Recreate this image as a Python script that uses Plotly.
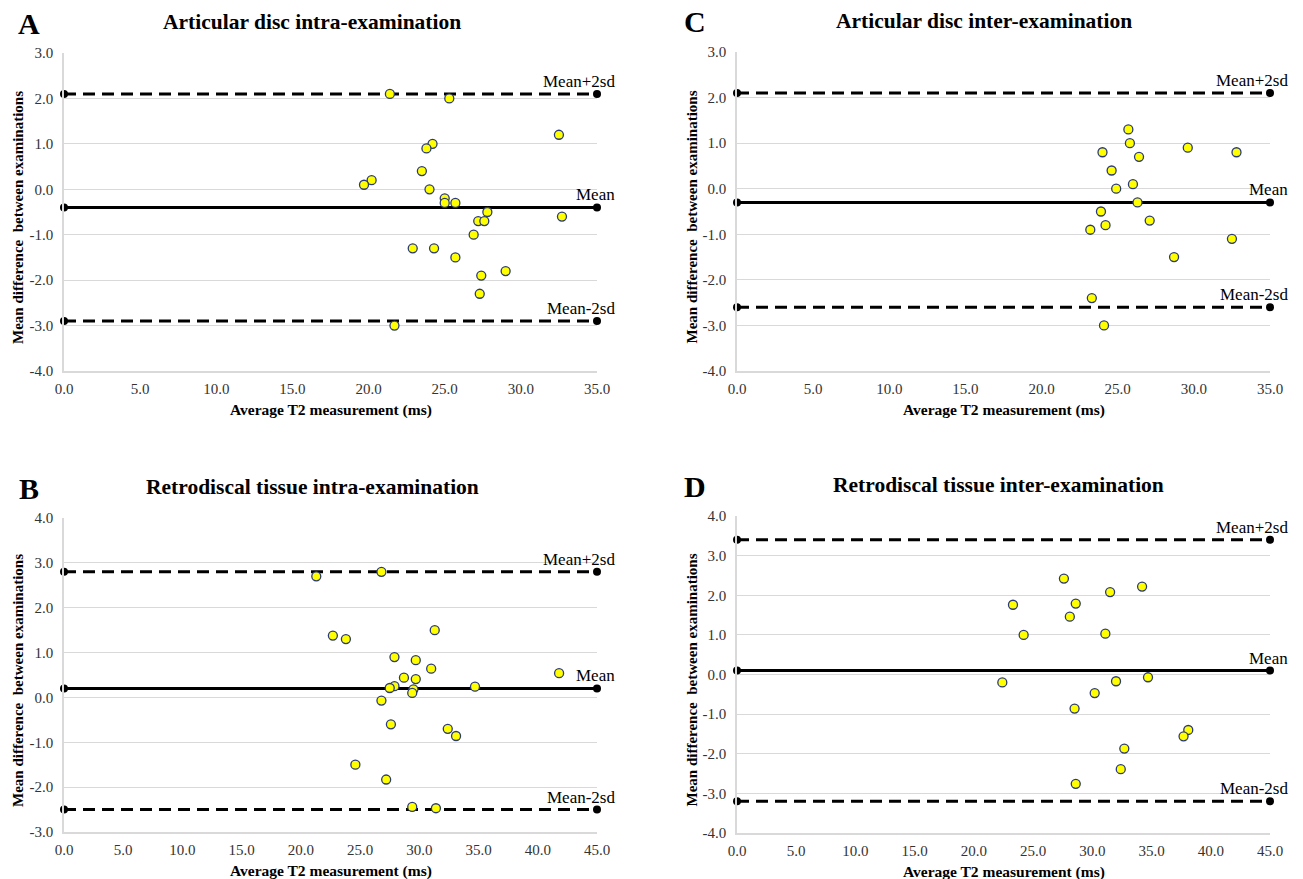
import plotly.graph_objects as go

# ---------------- data ----------------
a_x = [21.4, 25.3, 32.5, 24.2, 23.8, 23.5, 20.2, 19.7, 24.0, 25.0, 25.0, 25.7, 27.8, 32.7, 27.2, 27.6, 26.9, 22.9, 24.3, 25.7, 29.0, 27.4, 27.3, 21.7]
a_y = [2.1, 2.0, 1.2, 1.0, 0.9, 0.4, 0.2, 0.1, 0.0, -0.2, -0.3, -0.3, -0.5, -0.6, -0.7, -0.7, -1.0, -1.3, -1.3, -1.5, -1.8, -1.9, -2.3, -3.0]
a_lines = [2.1, -0.4, -2.9]

c_x = [25.7, 25.8, 24.0, 26.4, 29.6, 32.8, 24.6, 26.0, 24.9, 26.3, 23.9, 27.1, 24.2, 23.2, 32.5, 28.7, 23.3, 24.1]
c_y = [1.3, 1.0, 0.8, 0.7, 0.9, 0.8, 0.4, 0.1, 0.0, -0.3, -0.5, -0.7, -0.8, -0.9, -1.1, -1.5, -2.4, -3.0]
c_lines = [2.1, -0.3, -2.6]

b_x = [21.3, 26.8, 22.7, 23.8, 31.3, 27.9, 29.7, 31.0, 28.7, 29.7, 41.8, 34.7, 27.9, 27.5, 29.5, 29.4, 26.8, 27.6, 32.4, 33.1, 24.6, 27.2, 29.4, 31.4]
b_y = [2.7, 2.8, 1.38, 1.3, 1.5, 0.9, 0.83, 0.64, 0.44, 0.41, 0.54, 0.24, 0.25, 0.21, 0.18, 0.1, -0.07, -0.6, -0.7, -0.86, -1.5, -1.83, -2.44, -2.47]
b_lines = [2.8, 0.2, -2.5]

d_x = [27.6, 34.2, 31.5, 23.3, 28.6, 28.1, 24.2, 31.1, 22.4, 32.0, 34.7, 30.2, 28.5, 38.1, 37.7, 32.7, 32.4, 28.6]
d_y = [2.42, 2.22, 2.08, 1.76, 1.79, 1.46, 1.0, 1.03, -0.2, -0.17, -0.07, -0.47, -0.86, -1.4, -1.56, -1.87, -2.39, -2.76]
d_lines = [3.4, 0.1, -3.2]

line_labels = ["Mean+2sd", "Mean", "Mean-2sd"]

x_ticks_35 = [0, 5, 10, 15, 20, 25, 30, 35]
x_ticks_45 = [0, 5, 10, 15, 20, 25, 30, 35, 40, 45]
y_ticks_a = [-4, -3, -2, -1, 0, 1, 2, 3]
y_ticks_b = [-3, -2, -1, 0, 1, 2, 3, 4]
y_ticks_d = [-4, -3, -2, -1, 0, 1, 2, 3, 4]

panels = [
    dict(letter="A", title="Articular disc intra-examination", x=a_x, y=a_y, lines=a_lines,
         xt=x_ticks_35, yt=y_ticks_a, px=(64, 597), py=(53, 371), tdx=-19, ldx=-35),
    dict(letter="C", title="Articular disc inter-examination", x=c_x, y=c_y, lines=c_lines,
         xt=x_ticks_35, yt=y_ticks_a, px=(737, 1270), py=(52, 371), tdx=-20, ldx=-42),
    dict(letter="B", title="Retrodiscal tissue intra-examination", x=b_x, y=b_y, lines=b_lines,
         xt=x_ticks_45, yt=y_ticks_b, px=(64, 597), py=(518, 832), tdx=-18, ldx=-35),
    dict(letter="D", title="Retrodiscal tissue inter-examination", x=d_x, y=d_y, lines=d_lines,
         xt=x_ticks_45, yt=y_ticks_d, px=(737, 1270), py=(516, 833), tdx=-5, ldx=-42),
]

W, H = 1303, 879
SERIF = "Liberation Serif"

fig = go.Figure()
annotations = []
layout_axes = {}

for i, p in enumerate(panels):
    n = "" if i == 0 else str(i + 1)
    xa, ya = "x" + n, "y" + n
    x0, x1 = p["px"]
    y0, y1 = p["py"]
    xmax = p["xt"][-1]
    layout_axes["xaxis" + n] = dict(
        domain=[x0 / W, x1 / W], range=[0, xmax],
        tickvals=p["xt"], ticktext=[f"{v:.1f}" for v in p["xt"]],
        anchor=ya, showgrid=False, showline=True, linecolor="#d9d9d9", linewidth=1.5,
        zeroline=False, ticks="", ticklabelstandoff=3, automargin=False,
        tickfont=dict(family=SERIF, size=15, color="#333"),
    )
    layout_axes["yaxis" + n] = dict(
        domain=[1 - y1 / H, 1 - y0 / H], range=[p["yt"][0], p["yt"][-1]],
        tickvals=p["yt"], ticktext=[f"{v:.1f}" for v in p["yt"]],
        anchor=xa, showgrid=True, gridcolor="#d9d9d9", gridwidth=1, showline=True,
        linecolor="#d9d9d9", linewidth=1.5, zeroline=False, ticks="", ticklabelstandoff=6,
        automargin=False, tickfont=dict(family=SERIF, size=15, color="#333"),
    )
    # reference lines
    for k, val in enumerate(p["lines"]):
        fig.add_trace(go.Scatter(
            x=[0, xmax], y=[val, val], xaxis=xa, yaxis=ya, mode="lines+markers",
            line=dict(color="black", width=3, dash="solid" if k == 1 else "12px,7px"),
            marker=dict(color="black", size=8), cliponaxis=False, showlegend=False,
            hoverinfo="skip",
        ))
        annotations.append(dict(
            x=xmax, y=val, xref=xa, yref=ya, text=line_labels[k], showarrow=False,
            xanchor="right", yanchor="bottom", yshift=1, xshift=20,
            font=dict(family=SERIF, size=17, color="black"),
        ))
    # points
    fig.add_trace(go.Scatter(
        x=p["x"], y=p["y"], xaxis=xa, yaxis=ya, mode="markers",
        marker=dict(color="#FFFF00", size=9, line=dict(color="#2B3A78", width=1.3)),
        cliponaxis=False, showlegend=False,
    ))
    cx = (x0 + x1) / 2
    # title
    annotations.append(dict(
        x=(cx + p["tdx"]) / W, y=1 - (y0 - 31) / H, xref="paper", yref="paper",
        text="<b>" + p["title"] + "</b>", showarrow=False, xanchor="center", yanchor="middle",
        font=dict(family=SERIF, size=21.5, color="black"),
    ))
    # letter
    annotations.append(dict(
        x=(x0 + p["ldx"]) / W, y=1 - (y0 - 30) / H, xref="paper", yref="paper",
        text="<b>" + p["letter"] + "</b>", showarrow=False, xanchor="center", yanchor="middle",
        font=dict(family=SERIF, size=30, color="black"),
    ))
    # x title
    annotations.append(dict(
        x=cx / W, y=1 - (y1 + 39) / H, xref="paper", yref="paper",
        text="<b>Average T2 measurement (ms)</b>", showarrow=False, xanchor="center",
        yanchor="middle", font=dict(family=SERIF, size=15.5, color="black"),
    ))
    # y title
    annotations.append(dict(
        x=(x0 - 46) / W, y=1 - ((y0 + y1) / 2 + 6) / H, xref="paper", yref="paper",
        text="<b>Mean difference  between examinations</b>", showarrow=False,
        xanchor="center", yanchor="middle", textangle=-90,
        font=dict(family=SERIF, size=15, color="black"),
    ))

fig.update_layout(
    width=W, height=H, margin=dict(l=0, r=0, t=0, b=0),
    paper_bgcolor="white", plot_bgcolor="white", font=dict(family=SERIF),
    annotations=annotations, **layout_axes,
)

fig.write_html("out.html", config={"displayModeBar": False},
               post_script="document.body.style.margin='0px';")
